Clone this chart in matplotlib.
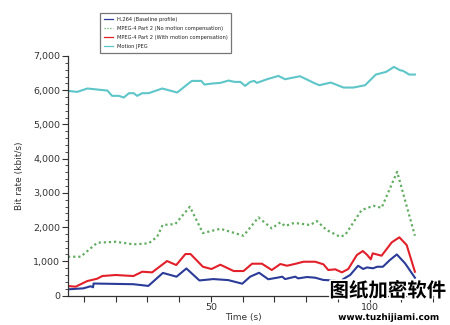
import matplotlib
matplotlib.use("Agg")
import matplotlib.pyplot as plt
from matplotlib.ticker import MultipleLocator, FuncFormatter
import matplotlib.patheffects as pe

# Bit rate over time for four codecs (kbit/s)
h264_t = [5, 9.9, 12.1, 12.9, 13.05, 25.6, 30.3, 34.9, 39.2, 42.3, 46.4, 50.8,
          55.5, 59.9, 62.4, 65.2, 68.1, 70.9, 72.5, 73.4, 76.6, 77.5, 80.3, 82.9,
          85.4, 89.2, 90.4, 91.7, 93.9, 96.4, 98.0, 99.2, 101.1, 102.4, 104.2,
          106.4, 108.6, 111.2, 114.3]
h264_v = [180, 210, 270, 240, 350, 330, 280, 660, 550, 790, 440, 480,
          450, 345, 550, 665, 475, 520, 550, 480, 550, 500, 540, 520,
          455, 435, 335, 480, 600, 870, 775, 820, 795, 840, 840,
          1035, 1200, 940, 520]

mpeg4_nomc_t = [5, 9.0, 14.2, 20.0, 25.7, 30.4, 33.1, 34.8, 38.8, 43.4, 47.5,
                53.0, 60.3, 65.0, 69.2, 71.9, 73.4, 75.9, 77.6, 81.3, 83.4,
                86.5, 90.7, 92.3, 97.5, 101.2, 103.8, 108.7, 114.3]
mpeg4_nomc_v = [1133, 1133, 1542, 1571, 1495, 1524, 1717, 2059, 2088, 2594, 1825,
                1950, 1747, 2283, 1961, 2137, 2030, 2110, 2108, 2059, 2176,
                1913, 1717, 1766, 2497, 2622, 2564, 3615, 1747]

mpeg4_mc_t = [5, 7.4, 11.1, 14.2, 15.8, 20.0, 25.6, 28.4, 31.5, 36.2, 39.1,
              42.0, 43.6, 47.5, 50.2, 53.0, 57.2, 60.3, 63.0, 66.1, 69.2, 71.9,
              74.0, 76.6, 79.2, 82.9, 85.5, 87.0, 89.2, 91.3, 93.3, 96.0, 97.9,
              99.3, 100.4, 101.0, 103.8, 107.0, 109.4, 111.7, 114.3]
mpeg4_mc_v = [277, 258, 423, 491, 569, 599, 569, 695, 676, 1007, 890,
              1212, 1212, 841, 774, 900, 715, 715, 929, 929, 745, 920,
              870, 925, 987, 987, 910, 745, 765, 676, 774, 1183, 1300,
              1183, 1057, 1232, 1163, 1553, 1700, 1475, 695]

mjpeg_t = [5, 7.9, 11.1, 17.4, 18.9, 21.0, 22.6, 24.2, 25.7, 26.8, 28.4, 30.4,
           34.7, 39.4, 43.6, 44.1, 47.0, 48.0, 50.4, 53.0, 55.6, 57.5, 59.3,
           60.8, 62.4, 63.7, 64.5, 67.7, 71.3, 73.4, 78.1, 82.9, 84.2, 87.8,
           91.8, 94.9, 98.6, 102.0, 105.2, 107.7, 109.6, 110.6, 112.5, 114.3]
mjpeg_v = [5980, 5951, 6050, 5990, 5835, 5835, 5787, 5913, 5913, 5835, 5913, 5913,
           6050, 5933, 6243, 6272, 6272, 6166, 6195, 6214, 6282, 6243, 6243,
           6126, 6243, 6272, 6214, 6321, 6418, 6321, 6409, 6195, 6146, 6224,
           6078, 6078, 6146, 6458, 6535, 6681, 6584, 6564, 6458, 6458]

labels = ["H.264 (Baseline profile)",
          "MPEG-4 Part 2 (No motion compensation)",
          "MPEG-4 Part 2 (With motion compensation)",
          "Motion JPEG"]

fig = plt.figure(figsize=(4.5, 3.25), dpi=100)
fig.patch.set_facecolor("white")
ax = fig.add_axes([68 / 450, 1 - 295.5 / 325, (433 - 68) / 450, (295.5 - 56) / 325])

ax.plot(h264_t, h264_v, color="#2b3b98", lw=1.5, label=labels[0])
ax.plot(mpeg4_nomc_t, mpeg4_nomc_v, color="#62ad62", lw=1.6, ls=(0, (1, 1.3)),
        label=labels[1])
ax.plot(mpeg4_mc_t, mpeg4_mc_v, color="#e2202a", lw=1.5, label=labels[2])
ax.plot(mjpeg_t, mjpeg_v, color="#5ec6c9", lw=1.5, label=labels[3])

ax.set_xlim(5, 120)
ax.set_ylim(0, 7000)

for side in ("top", "right"):
    ax.spines[side].set_visible(False)
for side in ("left", "bottom"):
    ax.spines[side].set_color("#333333")
    ax.spines[side].set_linewidth(0.9)

ax.xaxis.set_major_locator(MultipleLocator(50))
ax.xaxis.set_minor_locator(MultipleLocator(10))
ax.yaxis.set_major_locator(MultipleLocator(1000))
ax.yaxis.set_minor_locator(MultipleLocator(200))
ax.yaxis.set_major_formatter(FuncFormatter(lambda v, p: f"{int(v):,}"))

ax.tick_params(axis="both", which="major", labelsize=6.8, colors="#333333",
               length=4, width=0.8, pad=1.5)
ax.tick_params(axis="x", which="minor", length=4, width=0.8, colors="#333333")
ax.tick_params(axis="y", which="minor", length=2, width=0.6, colors="#333333")

ax.set_xlabel("Time (s)", fontsize=6.5, color="#333333", labelpad=9)
ax.set_ylabel("Bit rate (kbit/s)", fontsize=6.5, color="#333333", labelpad=7)
ax.xaxis.set_label_coords(0.48, -0.075)

leg = ax.legend(loc="upper left", bbox_to_anchor=(100 / 450, 1 - 13 / 325),
                bbox_transform=fig.transFigure, fontsize=3.7, frameon=True,
                fancybox=False, edgecolor="#555555", borderaxespad=0,
                handlelength=1.7, handletextpad=0.8, labelspacing=0.8,
                borderpad=0.75)
leg.get_frame().set_linewidth(0.9)
for line in leg.get_lines():
    line.set_linewidth(0.9)
for txt in leg.get_texts():
    txt.set_color("#222222")

# site watermark in the lower right
stroke = [pe.withStroke(linewidth=2.5, foreground="white")]
fig.text(388 / 450, 1 - 291 / 325, "图纸加密软件", ha="center", va="center",
         fontsize=14, fontweight="bold", family=["Noto Sans CJK SC", "DejaVu Sans"],
         color="black", path_effects=stroke)
fig.text(389 / 450, 1 - 317.5 / 325, "www.tuzhijiami.com", ha="center", va="center",
         fontsize=6.4, fontweight="bold", family=["DejaVu Sans"],
         color="black", path_effects=stroke)

fig.savefig("out.png", dpi=100, facecolor="white")
